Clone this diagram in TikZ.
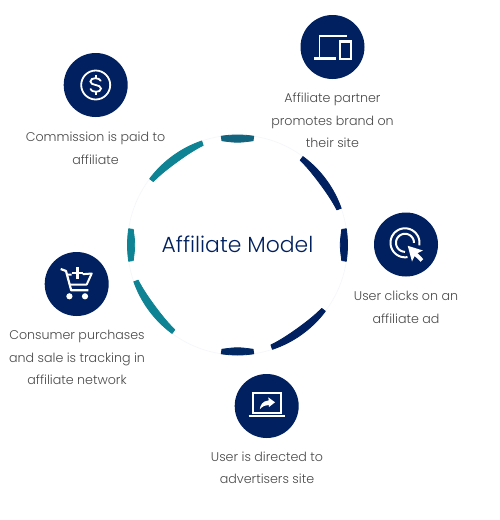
\documentclass[tikz,border=0pt]{standalone}
\usepackage{fontspec}
\setmainfont{Poppins}[UprightFont=* Light]
\definecolor{navy}{HTML}{00205F}
\definecolor{teal1}{HTML}{0E8394}
\definecolor{tealnavy}{HTML}{13647F}
\definecolor{labelgrey}{HTML}{4A4A4A}
\newcommand{\ringseg}[3]{% start angle, end angle, colour
  \filldraw[#3,line width=0.8pt,line join=round] plot[domain=#1:#2,samples=25,smooth] ({237.5+110*cos(\x)},{245-110*sin(\x)})
    -- plot[domain=#2:#1,samples=25,smooth] ({237.5+(110-(4.6+2.6*sin(180*(\x-#1)/(#2-#1))))*cos(\x)},{245-(110-(4.6+2.6*sin(180*(\x-#1)/(#2-#1))))*sin(\x)}) -- cycle;}
\tikzset{
  x=1pt,y=-1pt,
  badge/.style={circle,fill=navy,draw=none,minimum size=64pt,inner sep=0pt},
  caption/.style={align=center,text=labelgrey,font=\fontsize{12.65}{22.5}\selectfont,inner sep=0pt},
  title/.style={text=navy,font=\fontsize{21.9}{28}\selectfont,inner sep=0pt},
  icon/.style={draw=white,line width=1.8pt,fill=none},
  iconfill/.style={fill=white,draw=none}
}
\begin{document}
\begin{tikzpicture}
\useasboundingbox (0,0) rectangle (500,520);
\fill[white] (0,0) rectangle (500,520);
\draw[color=navy!4,line width=0.6pt] (237.5,245) circle[radius=110];
\ringseg{81.5}{98.5}{tealnavy}
\ringseg{19.5}{53.5}{navy}
\ringseg{-8.5}{8.5}{navy}
\ringseg{-71.5}{-37}{navy}
\ringseg{-98.5}{-81.5}{navy!92!teal1}
\ringseg{-160.5}{-126.5}{teal1}
\ringseg{171.5}{188.5}{teal1}
\ringseg{109}{143}{teal1}
\node[title] (center) at (237.5,244) {Affiliate Model};

\node[badge] (paid) at (95.7,85) {};
\node[badge] (promote) at (332.5,47) {};
\node[badge] (click) at (406,244.5) {};
\node[badge] (direct) at (266.7,406) {};
\node[badge] (buy) at (76.7,284) {};

\node[caption] (paidt) at (95.5,148.2) {Commission is paid to\\affiliate};
\node[caption] (promotet) at (332.5,120.7) {Affiliate partner\\promotes brand on\\their site};
\node[caption] (clickt) at (406,307.2) {User clicks on an\\affiliate ad};
\node[caption] (directt) at (267,467.7) {User is directed to\\advertisers site};
\node[caption] (buyt) at (77,357.7) {Consumer purchases\\and sale is tracking in\\affiliate network};

% dollar icon
\begin{scope}[shift={(paid.center)}]
\draw[icon] (0,0) circle[radius=14.5];
\draw[icon,line cap=round] (5,-4.2) .. controls (4,-7.5) and (-5.5,-8) .. (-5.3,-3.4) .. controls (-5.2,1) and (5.3,-1) .. (5.3,3.6) .. controls (5.3,8) and (-4.5,7.5) .. (-5.2,4);
\draw[icon] (0,-9.8) -- (0,-6.5) (0,6.5) -- (0,9.8);
\end{scope}

% devices icon
\begin{scope}[shift={(promote.center)}]
\draw[icon] (14,-11) -- (-13,-11) -- (-13,11);
\draw[icon,line width=2.4pt] (-18.5,11.3) -- (3,11.3);
\draw[icon,line width=2.3pt] (7.5,-5.5) rectangle (18.5,12.2);
\end{scope}

% click icon
\begin{scope}[shift={(click.center)}]
\draw[icon,line width=2pt] plot[domain=80:370,samples=50,smooth] ({-1+14.5*cos(\x)},{-1.7+14.5*sin(\x)});
\draw[icon,line width=2pt] plot[domain=90:360,samples=40,smooth] ({-1+9*cos(\x)},{-1.7+9*sin(\x)});
\path[iconfill] (1.7,1.3) -- (17,6) -- (11.5,8.6) -- (17.3,14.6) -- (14.7,17.3) -- (8.7,11.5) -- (6,17) -- cycle;
\end{scope}

% cart icon
\begin{scope}[shift={(buy.center)}]
\draw[icon,line width=2.2pt,line join=round] (-16,-15) -- (-10.7,-13) -- (-5.5,6.3) -- (11.7,6.3);
\draw[icon,line width=2pt,line join=round] (-9,-9.3) -- (-5,-9.3) (6,-9.8) -- (15,-10.5) -- (10,0.5) -- (-7,0.5);
\draw[icon,line width=2.4pt] (0.7,-17) -- (0.7,-5.5) (-5,-11) -- (6.5,-11);
\fill[white] (-7.3,12.3) circle[radius=3.1] (8.3,12.3) circle[radius=3.1];
\end{scope}

% laptop icon
\begin{scope}[shift={(direct.center)}]
\draw[icon] (-14,-12.7) rectangle (14.5,7.3);
\draw[icon,line width=2.4pt] (-18,10.2) -- (18.5,10.2);
\path[iconfill] (8.3,-3.7) -- (1.7,-8.6) -- (1.9,-5.6) .. controls (-4,-5) and (-6.5,-1) .. (-6.9,3.4) .. controls (-4,0) and (-1,-1.2) .. (2.1,-1) -- (2.3,1) -- cycle;
\end{scope}
\end{tikzpicture}
\end{document}
